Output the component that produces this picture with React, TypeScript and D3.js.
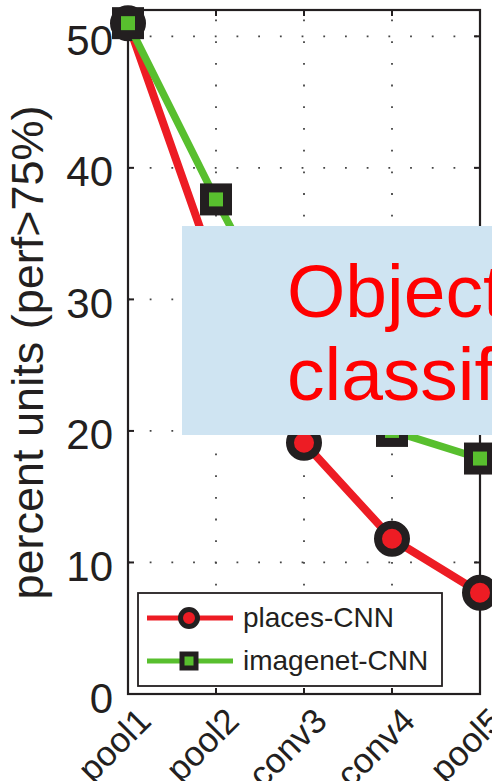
import React from "react";
import * as d3 from "d3";

const categories = ["pool1", "pool2", "conv3", "conv4", "pool5"];
const placesValues = [51, 32, 19.1, 11.8, 7.7];
const imagenetValues = [51, 37.6, 25, 20, 17.9];
const yTicks = [0, 10, 20, 30, 40, 50];
const seriesNames = ["places-CNN", "imagenet-CNN"];
const overlayLines = ["Object", "classification"];

const W = 492;
const H = 781;
const FONT = "'Liberation Sans', Arial, Helvetica, sans-serif";
const RED = "#ed1c24";
const GREEN = "#58bf2e";
const DARK = "#231f20";

export default function App() {
  const x = d3.scalePoint<string>().domain(categories).range([128, 480]);
  const y = d3.scaleLinear().domain([0, 52]).range([694, 10]);
  const x0 = x.range()[0];
  const x1 = x.range()[1];
  const yTop = y(52);
  const yBot = y(0);

  const line = d3
    .line<number>()
    .x((_, i) => x(categories[i]) as number)
    .y((d) => y(d));

  const sq = 23;

  return (
    <svg
      width={W}
      height={H}
      style={{ position: "absolute", left: 0, top: 0, background: "#fff" }}
      fontFamily={FONT}
    >
      <rect x={0} y={0} width={W} height={H} fill="#fff" />
      {/* grid */}
      {yTicks
        .filter((t) => t > 0)
        .map((t) => (
          <line
            key={"gy" + t}
            x1={x0}
            x2={x1}
            y1={y(t)}
            y2={y(t)}
            stroke="#444"
            strokeWidth={1.8}
            strokeDasharray="1.8 19.9"
          />
        ))}
      {categories.slice(1, -1).map((c) => (
        <line
          key={"gx" + c}
          x1={x(c)}
          x2={x(c)}
          y1={yBot}
          y2={yTop}
          stroke="#444"
          strokeWidth={1.8}
          strokeDasharray="1.8 19.9"
        />
      ))}
      {/* axes box */}
      <rect
        x={x0}
        y={yTop}
        width={x1 - x0}
        height={yBot - yTop}
        fill="none"
        stroke={DARK}
        strokeWidth={2.2}
      />
      {/* ticks */}
      {yTicks.map((t) => (
        <g key={"ty" + t}>
          <line x1={x0} x2={x0 + 6} y1={y(t)} y2={y(t)} stroke={DARK} strokeWidth={2} />
          <line x1={x1} x2={x1 - 6} y1={y(t)} y2={y(t)} stroke={DARK} strokeWidth={2} />
          <text
            x={113}
            y={y(t) + 18.5}
            textAnchor="end"
            fontSize={42}
            fill="#231f20"
          >
            {t}
          </text>
        </g>
      ))}
      {categories.map((c) => (
        <g key={"tx" + c}>
          <line x1={x(c)} x2={x(c)} y1={yBot} y2={yBot - 6} stroke={DARK} strokeWidth={2} />
          <line x1={x(c)} x2={x(c)} y1={yTop} y2={yTop + 6} stroke={DARK} strokeWidth={2} />
          <text
            transform={`translate(${(x(c) as number) + 25},${723}) rotate(-45)`}
            textAnchor="end"
            fontSize={35}
            fill="#231f20"
          >
            {c}
          </text>
        </g>
      ))}
      {/* y axis label */}
      <text
        transform={`translate(43,352.5) rotate(-90)`}
        textAnchor="middle"
        fontSize={45}
        fill="#231f20"
      >
        percent units (perf&gt;75%)
      </text>

      {/* places series */}
      <path d={line(placesValues) || ""} fill="none" stroke={RED} strokeWidth={8} strokeLinejoin="round" />
      {placesValues.map((v, i) => (
        <circle
          key={"pc" + i}
          cx={x(categories[i])}
          cy={y(v)}
          r={14}
          fill={RED}
          stroke={DARK}
          strokeWidth={8}
        />
      ))}
      {/* imagenet series */}
      <path d={line(imagenetValues) || ""} fill="none" stroke={GREEN} strokeWidth={7.5} strokeLinejoin="round" />
      {imagenetValues.map((v, i) => (
        <rect
          key={"ir" + i}
          x={(x(categories[i]) as number) - sq / 2}
          y={y(v) - sq / 2}
          width={sq}
          height={sq}
          fill={GREEN}
          stroke={DARK}
          strokeWidth={9}
        />
      ))}

      {/* overlay box */}
      <rect x={182} y={226} width={330} height={209} fill="#cfe4f2" />
      {overlayLines.map((t, i) => (
        <text key={"ov" + i} x={287} y={317 + i * 83} fontSize={75} fill="#ff0000">
          {t}
        </text>
      ))}

      {/* legend */}
      <rect x={138} y={593} width={304} height={93} fill="#fff" stroke={DARK} strokeWidth={1.8} />
      <line x1={147} x2={233} y1={618} y2={618} stroke={RED} strokeWidth={5} />
      <circle cx={189} cy={618} r={8.5} fill={RED} stroke={DARK} strokeWidth={5} />
      <text x={243} y={627} fontSize={28} fill="#231f20">
        {seriesNames[0]}
      </text>
      <line x1={147} x2={233} y1={661} y2={661} stroke={GREEN} strokeWidth={5} />
      <rect x={189 - 7} y={661 - 7} width={14} height={14} fill={GREEN} stroke={DARK} strokeWidth={5} />
      <text x={243} y={670} fontSize={28} fill="#231f20">
        {seriesNames[1]}
      </text>
    </svg>
  );
}
